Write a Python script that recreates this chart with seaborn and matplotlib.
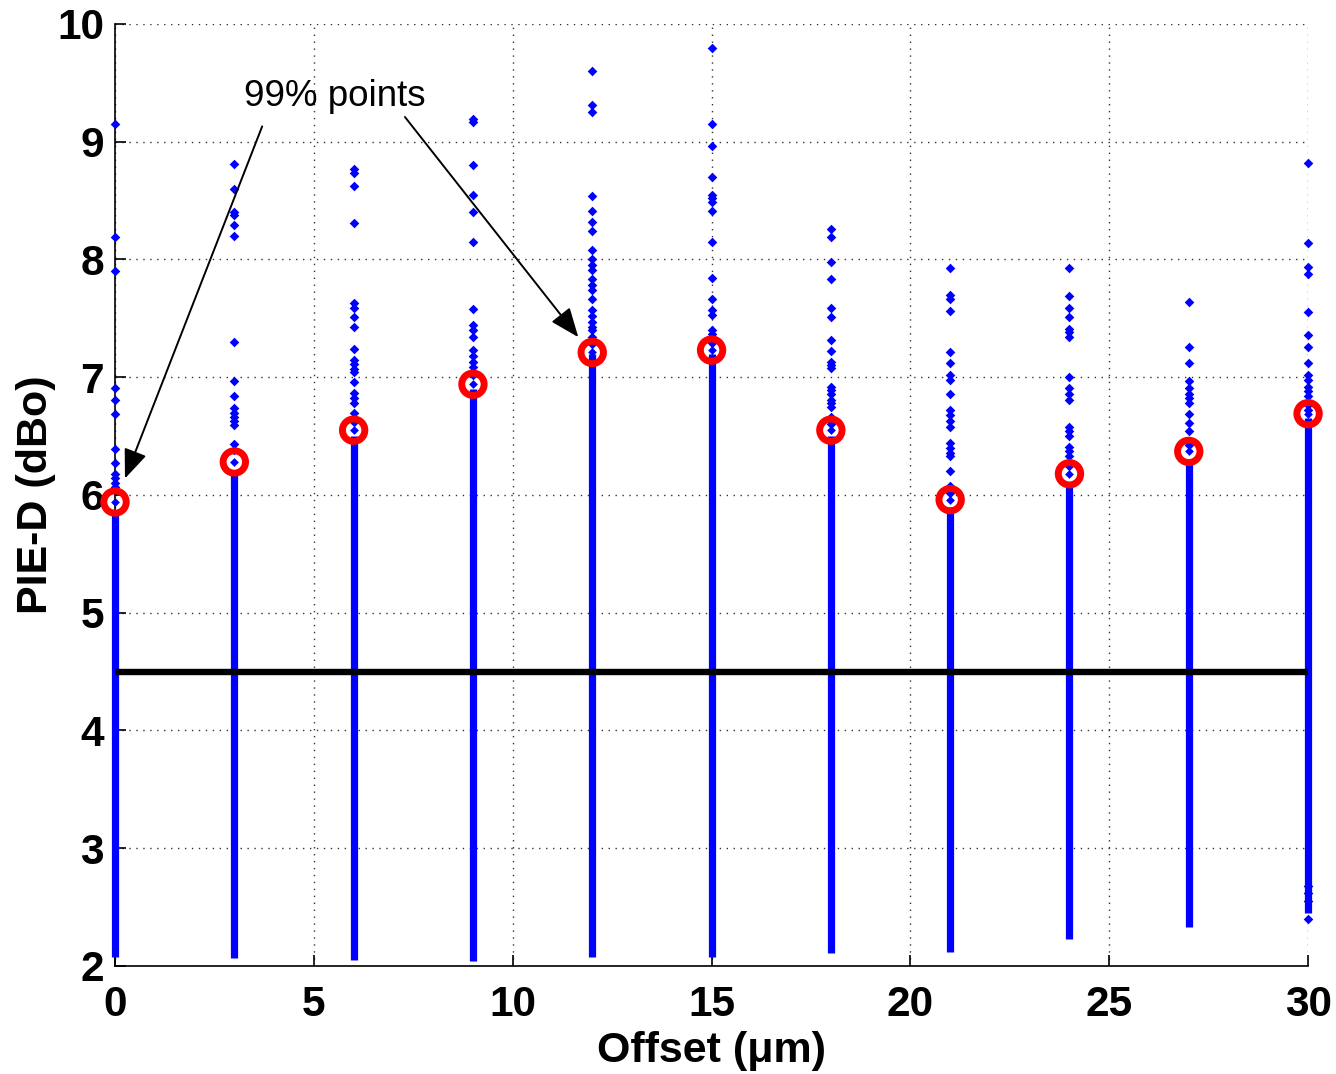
import matplotlib
matplotlib.use("Agg")
import matplotlib.pyplot as plt
import seaborn as sns
import pandas as pd
import numpy as np

# ---------------- data ----------------
offsets = [0, 3, 6, 9, 12, 15, 18, 21, 24, 27, 30]
p99 = [5.94, 6.28, 6.55, 6.94, 7.21, 7.23, 6.55, 5.96, 6.18, 6.37, 6.69]
dense_low = [2.08, 2.07, 2.05, 2.04, 2.08, 2.08, 2.11, 2.12, 2.23, 2.33, 2.45]
dense_high = [5.85, 6.20, 6.50, 6.90, 7.20, 7.20, 6.50, 5.90, 6.10, 6.30, 6.65]

out_0 = [9.15, 8.19, 7.90, 6.91, 6.81, 6.69, 6.39, 6.27, 6.18, 6.14, 6.10, 6.07]
out_3 = [8.81, 8.60, 8.40, 8.38, 8.29, 8.20, 7.30, 6.97, 6.84, 6.74, 6.70, 6.66, 6.63, 6.59, 6.43, 6.38]
out_6 = [8.77, 8.73, 8.62, 8.31, 7.63, 7.59, 7.51, 7.43, 7.24, 7.15, 7.11, 7.07, 7.04, 6.96, 6.87,
         6.82, 6.78, 6.70, 6.62]
out_9 = [9.19, 9.17, 8.80, 8.55, 8.40, 8.15, 7.58, 7.44, 7.40, 7.34, 7.23, 7.18, 7.13, 7.09, 7.02]
out_12 = [9.60, 9.31, 9.25, 8.54, 8.41, 8.32, 8.24, 8.08, 8.00, 7.95, 7.91, 7.83, 7.78, 7.74, 7.66,
          7.57, 7.52, 7.47, 7.43, 7.40, 7.34, 7.28]
out_15 = [9.80, 9.15, 8.96, 8.70, 8.55, 8.52, 8.49, 8.41, 8.15, 7.84, 7.66, 7.57, 7.53, 7.40, 7.37,
          7.34, 7.29]
out_18 = [8.26, 8.19, 7.98, 7.83, 7.59, 7.51, 7.32, 7.22, 7.13, 7.10, 7.08, 6.92, 6.89, 6.86, 6.81,
          6.78, 6.75, 6.66, 6.60]
out_21 = [7.93, 7.70, 7.66, 7.56, 7.21, 7.12, 7.02, 6.98, 6.86, 6.72, 6.68, 6.63, 6.58, 6.44, 6.40,
          6.36, 6.33, 6.20, 6.08, 6.02]
out_24 = [7.93, 7.69, 7.59, 7.51, 7.41, 7.38, 7.34, 7.00, 6.91, 6.86, 6.81, 6.58, 6.54, 6.50, 6.41,
          6.37, 6.33, 6.25]
out_27 = [7.64, 7.26, 7.12, 6.97, 6.91, 6.86, 6.82, 6.78, 6.69, 6.61, 6.54, 6.45, 6.42]
out_30 = [8.82, 8.14, 7.94, 7.88, 7.55, 7.36, 7.26, 7.12, 7.02, 6.98, 6.92, 6.88, 6.84, 6.76, 6.72,
          2.40, 2.55, 2.62, 2.68]
outliers = [out_0, out_3, out_6, out_9, out_12, out_15, out_18, out_21, out_24, out_27, out_30]

threshold = 4.5

x_ticks = [0, 5, 10, 15, 20, 25, 30]
y_ticks = [2, 3, 4, 5, 6, 7, 8, 9, 10]
x_label = "Offset (\u03bcm)"
y_label = "PIE-D (dBo)"
note_text = "99% points"

# ---------------- tables ----------------
pts = pd.DataFrame({
    "offset": [o for o, vals in zip(offsets, outliers) for _ in vals],
    "pied": [v for vals in outliers for v in vals],
})
p99_df = pd.DataFrame({"offset": offsets, "pied": p99})

# ---------------- figure ----------------
sns.set_theme(style="white")
plt.rcParams["font.family"] = ["Liberation Sans", "DejaVu Sans"]
plt.rcParams["text.color"] = "black"
plt.rcParams["axes.labelcolor"] = "black"

fig = plt.figure(figsize=(13.36, 10.74), dpi=100)
ax = fig.add_axes([0.0861, 0.1006, 0.8930, 0.8771])

BLUE = "#0000ff"

# dense part of each column
ax.vlines(offsets, dense_low, dense_high, colors=BLUE, linewidth=5.2, zorder=3, clip_on=False)

# sparse points
sns.scatterplot(data=pts, x="offset", y="pied", ax=ax, color=BLUE, marker="D",
                s=24, linewidth=0, zorder=4, legend=False, clip_on=False)

# threshold line
ax.plot([offsets[0], offsets[-1]], [threshold, threshold], color="black", lw=4.6, zorder=5,
        solid_capstyle="butt")

# 99% points
sns.scatterplot(data=p99_df, x="offset", y="pied", ax=ax, marker="o", s=260,
                facecolors="none", edgecolor="red", linewidth=5.0, zorder=6, legend=False,
                clip_on=False)
sns.scatterplot(data=p99_df, x="offset", y="pied", ax=ax, color=BLUE, marker="D",
                s=20, linewidth=0, zorder=7, legend=False, clip_on=False)

# annotation
ax.text(5.53, 9.38, note_text, fontsize=26.5, ha="center", va="center", color="black", zorder=8)
arrow_kw = dict(arrowstyle="-|>,head_length=1.5,head_width=0.6", color="black", lw=1.4,
                shrinkA=0, shrinkB=0)
ax.annotate("", xy=(0.25, 6.14), xytext=(3.70, 9.13), arrowprops=arrow_kw, zorder=8)
ax.annotate("", xy=(11.65, 7.34), xytext=(7.29, 9.21), arrowprops=arrow_kw, zorder=8)

# axes styling
ax.set_xlim(0, 30)
ax.set_ylim(2, 10)
ax.set_xticks(x_ticks)
ax.set_yticks(y_ticks)
ax.set_xticklabels([str(t) for t in x_ticks])
ax.set_yticklabels([str(t) for t in y_ticks])
ax.tick_params(axis="both", direction="in", length=8, width=1.2, colors="black",
               labelsize=30.5, bottom=True, left=True)
ax.tick_params(axis="x", pad=14)
ax.tick_params(axis="y", pad=8)
for lab in ax.get_xticklabels() + ax.get_yticklabels():
    lab.set_fontweight("bold")

ax.grid(True, color="#333333", linestyle=(0, (1, 4)), linewidth=1.0)
ax.set_axisbelow(True)
for side in ["top", "right"]:
    ax.spines[side].set_visible(False)
for side in ["left", "bottom"]:
    ax.spines[side].set_color("black")
    ax.spines[side].set_linewidth(1.2)

ax.set_xlabel(x_label, fontsize=31, fontweight="bold", labelpad=4, color="black")
ax.set_ylabel(y_label, fontsize=31, fontweight="bold", labelpad=1, color="black")

fig.savefig("out.png", dpi=100, facecolor="white")
